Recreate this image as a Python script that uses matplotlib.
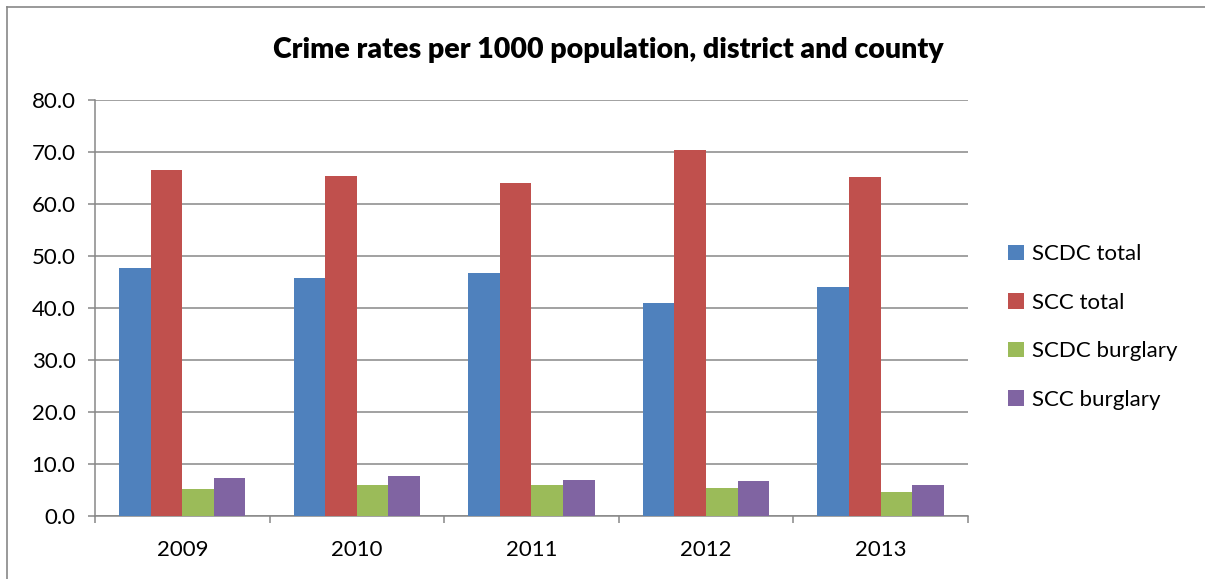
import matplotlib.pyplot as plt
import numpy as np
from matplotlib.lines import Line2D

plt.rcParams['font.family'] = ['Lato', 'DejaVu Sans']

years = ['2009', '2010', '2011', '2012', '2013']
scdc_total = [47.6, 45.8, 46.7, 41.0, 44.0]
scc_total = [66.5, 65.3, 64.0, 70.4, 65.1]
scdc_burglary = [5.2, 6.0, 6.0, 5.4, 4.7]
scc_burglary = [7.3, 7.7, 6.9, 6.8, 6.0]

series = [('SCDC total', scdc_total, '#4F81BD'),
          ('SCC total', scc_total, '#C0504D'),
          ('SCDC burglary', scdc_burglary, '#9BBB59'),
          ('SCC burglary', scc_burglary, '#8064A2')]

grid_col = '#878787'
fig = plt.figure(figsize=(12.05, 5.79), dpi=100)
ax = fig.add_axes([0.0788, 0.1088, 0.8033 - 0.0788, 0.8273 - 0.1088])

x = np.arange(len(years))
w = 0.181
for i, (name, vals, col) in enumerate(series):
    ax.bar(x + (i - 1.5) * w, vals, w, color=col, label=name, zorder=3)

ax.set_xlim(-0.5, 4.5)
ax.set_ylim(0, 80)
ax.set_yticks(np.arange(0, 81, 10))
ax.set_yticklabels(['%.1f' % v for v in np.arange(0, 81, 10)])
ax.set_xticks(x)
ax.set_xticklabels(years)
ax.set_xticks(np.arange(-0.5, 4.6, 1), minor=True)
ax.yaxis.grid(True, color=grid_col, lw=1.1, zorder=0)
ax.set_axisbelow(True)

for s in ['top', 'right']:
    ax.spines[s].set_visible(False)
for s in ['left', 'bottom']:
    ax.spines[s].set_color(grid_col)
    ax.spines[s].set_linewidth(1.1)

ax.tick_params(axis='y', length=5, color=grid_col, width=1.1, labelsize=16, pad=9)
ax.tick_params(axis='x', which='major', length=0, labelsize=16, pad=17)
ax.tick_params(axis='x', which='minor', length=5, color=grid_col, width=1.1)

fig.text(0.5046, 0.913, 'Crime rates per 1000 population, district and county',
         ha='center', va='center', fontsize=20.5, fontweight='heavy')

fig.legend(loc='center left', bbox_to_anchor=(1008 / 1205, 0.435), frameon=False,
           fontsize=16, handlelength=0.7, handleheight=0.7, handletextpad=0.4,
           labelspacing=1.28, borderpad=0, borderaxespad=0)

# outer chart border (left and top edges)
fig.add_artist(Line2D([7 / 1205, 7 / 1205], [0, 1 - 7 / 579], color=grid_col, lw=1.2))
fig.add_artist(Line2D([7 / 1205, 1], [1 - 7 / 579, 1 - 7 / 579], color=grid_col, lw=1.2))

plt.savefig('out.png', dpi=100)
